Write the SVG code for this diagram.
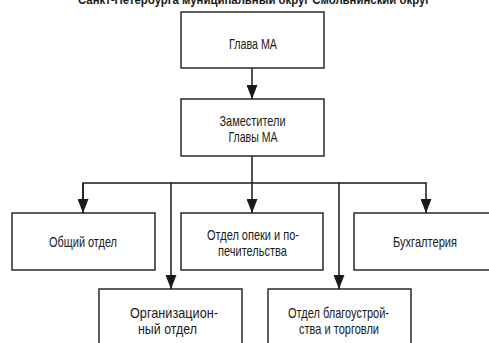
<svg xmlns="http://www.w3.org/2000/svg" width="489" height="343" viewBox="0 0 489 343">
<defs>
<style>
.box{fill:#fff;stroke:#1a1a1a;stroke-width:1.4}
.t{font-family:"Liberation Sans",Arial,sans-serif;font-size:14.5px;fill:#1a1a1a;text-anchor:middle}
.title{font-family:"Liberation Sans",Arial,sans-serif;font-size:13px;font-weight:bold;fill:#1a1a1a;text-anchor:middle}
.c{fill:none;stroke:#1a1a1a;stroke-width:1.5}
</style>
<marker id="ah" markerUnits="userSpaceOnUse" markerWidth="14" markerHeight="11" refX="14" refY="5.5" orient="auto">
<path d="M0,0 L14,5.5 L0,11 z" fill="#1a1a1a"/>
</marker>
</defs>
<rect width="489" height="343" fill="#fff"/>
<text class="title" x="254" y="4" textLength="352" lengthAdjust="spacingAndGlyphs">Санкт-Петербурга муниципальный округ Смольнинский округ</text>
<g id="connectors">
<line class="c" x1="252" y1="68" x2="252" y2="99" marker-end="url(#ah)"/>
<line class="c" x1="252" y1="156" x2="252" y2="213" marker-end="url(#ah)"/>
<polyline class="c" points="83,213 83,183 426,183 426,213" marker-end="url(#ah)"/>
<polyline class="c" points="83,183 83,213" marker-end="url(#ah)"/>
<line class="c" x1="171" y1="183" x2="171" y2="289" marker-end="url(#ah)"/>
<line class="c" x1="339" y1="183" x2="339" y2="289" marker-end="url(#ah)"/>
</g>
<g id="glava">
<rect class="box" x="181" y="12" width="143" height="56"/>
<text class="t" x="253" y="49" textLength="48" lengthAdjust="spacingAndGlyphs">Глава МА</text>
</g>
<g id="zam">
<rect class="box" x="181" y="99" width="143" height="57"/>
<text class="t" x="252.5" y="126" textLength="66" lengthAdjust="spacingAndGlyphs">Заместители</text>
<text class="t" x="253" y="142" textLength="49" lengthAdjust="spacingAndGlyphs">Главы МА</text>
</g>
<g id="obshiy">
<rect class="box" x="12" y="213" width="143" height="57"/>
<text class="t" x="83" y="247" textLength="68" lengthAdjust="spacingAndGlyphs">Общий отдел</text>
</g>
<g id="opeka">
<rect class="box" x="181" y="213" width="142" height="57"/>
<text class="t" x="253" y="240" textLength="92" lengthAdjust="spacingAndGlyphs">Отдел опеки и по-</text>
<text class="t" x="252.5" y="256" textLength="69" lengthAdjust="spacingAndGlyphs">печительства</text>
</g>
<g id="buh">
<rect class="box" x="354" y="213" width="144" height="57"/>
<text class="t" x="425" y="247" textLength="64" lengthAdjust="spacingAndGlyphs">Бухгалтерия</text>
</g>
<g id="org">
<rect class="box" x="99" y="289" width="143" height="60"/>
<text class="t" x="174" y="318" textLength="88" lengthAdjust="spacingAndGlyphs">Организацион-</text>
<text class="t" x="167.5" y="334" textLength="59" lengthAdjust="spacingAndGlyphs">ный отдел</text>
</g>
<g id="blag">
<rect class="box" x="268" y="289" width="143" height="60"/>
<text class="t" x="338.5" y="318" textLength="101" lengthAdjust="spacingAndGlyphs">Отдел благоустрой-</text>
<text class="t" x="339" y="334" textLength="80" lengthAdjust="spacingAndGlyphs">ства и торговли</text>
</g>
</svg>
